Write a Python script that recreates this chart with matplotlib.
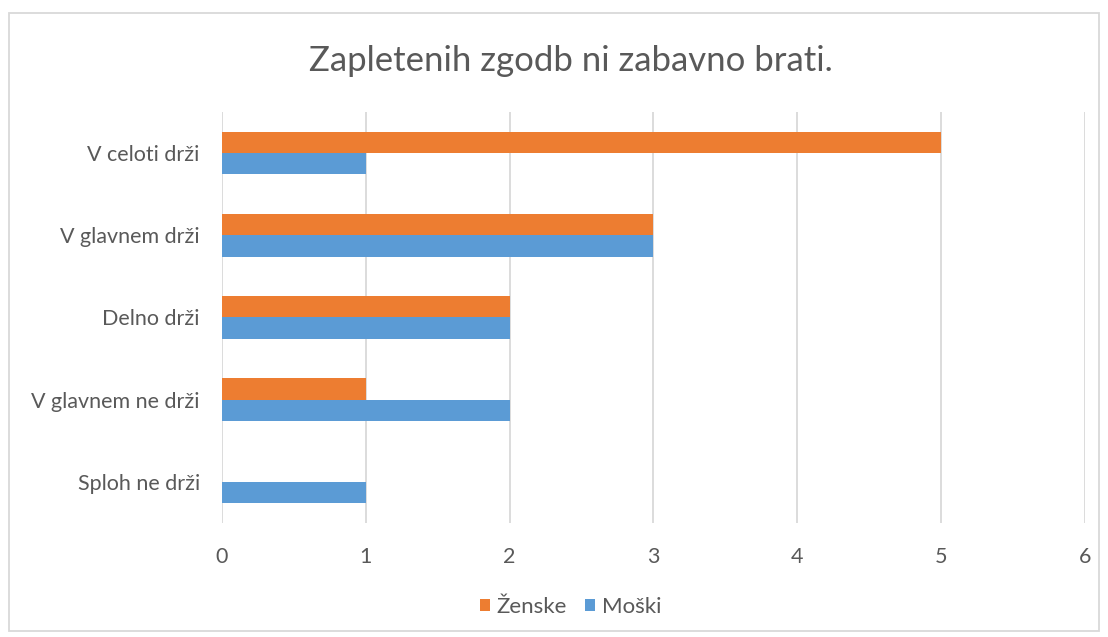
import matplotlib.pyplot as plt
import numpy as np
from matplotlib.patches import Rectangle

plt.rcParams['font.family'] = ['Lato', 'DejaVu Sans']

# data
categories = ['V celoti drži', 'V glavnem drži', 'Delno drži', 'V glavnem ne drži', 'Sploh ne drži']
zenske = [5, 3, 2, 1, 0]
moski = [1, 3, 2, 2, 1]
series_names = ['Ženske', 'Moški']
xticks = [0, 1, 2, 3, 4, 5, 6]

orange = '#ED7D31'
blue = '#5B9BD5'
text_col = '#595959'
grid_col = '#D9D9D9'

fig = plt.figure(figsize=(11.08, 6.37), dpi=100)
ax = fig.add_axes([0.2004, 0.179, 0.7788, 0.6452])

y = np.arange(len(categories))
h = 0.26
ax.barh(y - h / 2, zenske, height=h, color=orange, label=series_names[0], zorder=3)
ax.barh(y + h / 2, moski, height=h, color=blue, label=series_names[1], zorder=3)

ax.set_xlim(0, 6)
ax.set_ylim(len(categories) - 0.5, -0.5)
ax.set_xticks(xticks)
ax.set_yticks(y)
ax.set_yticklabels(categories)
ax.tick_params(axis='both', length=0, labelsize=15.5, labelcolor=text_col)
ax.tick_params(axis='x', pad=17)
ax.tick_params(axis='y', pad=16)
ax.grid(axis='x', color=grid_col, linewidth=1.3, zorder=0)
for s in ax.spines.values():
    s.set_visible(False)

fig.text(0.515, 0.905, 'Zapletenih zgodb ni zabavno brati.', ha='center', va='center',
         fontsize=25, color=text_col)

leg = fig.legend(loc='center', bbox_to_anchor=(0.515, 0.047), ncol=2, frameon=False,
                 fontsize=16, handlelength=0.45, handleheight=0.45, handletextpad=0.3,
                 columnspacing=0.8, labelcolor=text_col)

# outer chart frame
fig.patches.append(Rectangle((0.0081, 0.0094), 0.984, 0.9702, transform=fig.transFigure,
                             fill=False, edgecolor='#D9D9D9', linewidth=1.3))

fig.savefig('out.png', dpi=100)
